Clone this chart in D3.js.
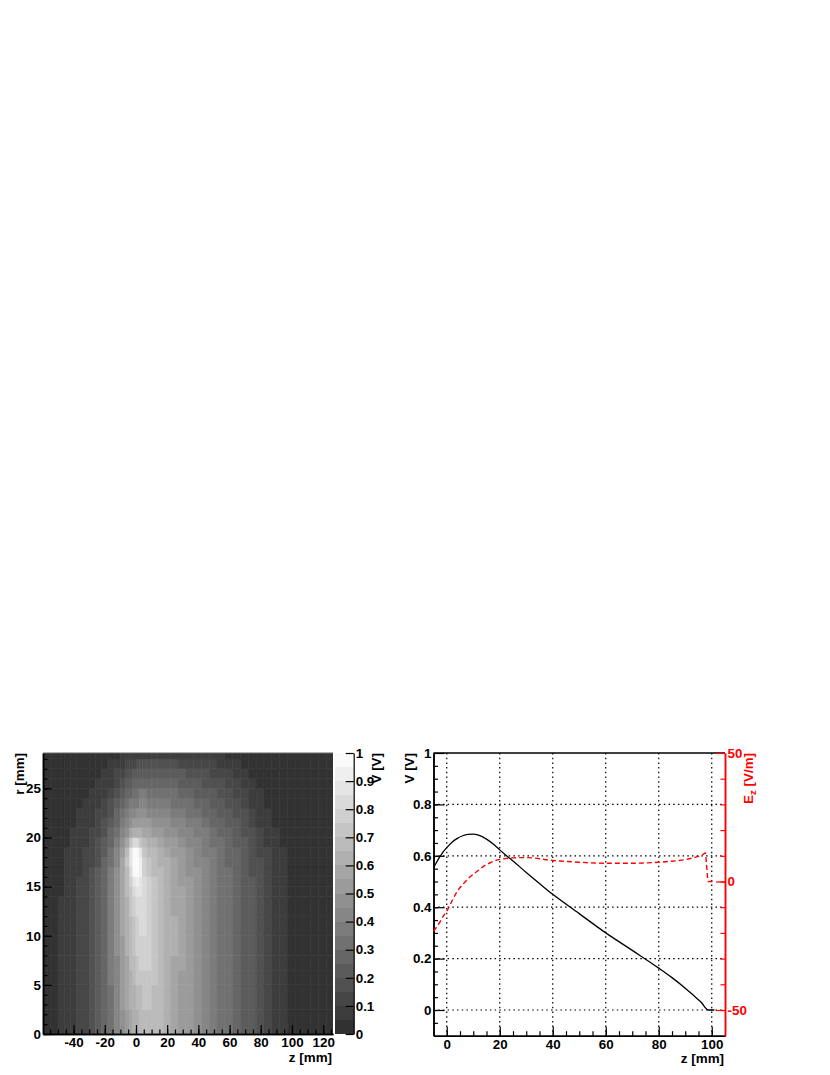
<!DOCTYPE html>
<html>
<head>
<meta charset="utf-8">
<script src="https://cdn.jsdelivr.net/npm/d3@7"></script>
<style>
body { margin: 0; background: #fff; }
text { font-family: "Liberation Sans", Arial, sans-serif; font-weight: bold; font-size: 13.4px; }
</style>
</head>
<body>
<div class="canvas"></div>
<script>
// cell edges of the potential map
var zEdges = [-59.6,-55,-50,-46,-42,-38,-34,-30,-26,-22,-18,-14,-10,-7,-4,-2,0,2,4,7,10,14,18,22,27,32,37,42,47,52,57,62,67,72,77,82,87,92,97,102,107,112,117,122,126.3];
var rEdges = [0,2.5,5,6.5,8,10,12,14,15,16,17,18,19,20,21,22,23,24,25,26,27,28,28.6];

// potential in units of 0.01 V, bottom row first
var potential = [
  [3,4,5,7,9,11,14,17,21,27,33, 41,49,54,58,61,64,66,67,68,68,65, 62,58,54,50,46,42,38,34,31,27,23, 20,17,13,9,6,4,4,4,4,4,3],
  [3,4,5,7,9,11,14,17,22,28,34, 42,50,56,60,64,67,69,71,71,69,66, 63,58,54,50,46,42,38,34,31,27,23, 20,17,13,9,6,4,4,4,4,4,3],
  [3,4,5,7,9,11,14,17,22,28,35, 43,52,58,63,67,70,73,74,74,71,67, 63,59,54,50,46,42,38,34,31,27,23, 20,17,13,9,6,4,4,4,4,4,3],
  [3,4,5,7,9,11,14,18,22,29,36, 44,53,59,65,69,72,75,77,76,72,67, 64,59,55,50,46,42,38,34,31,27,23, 20,17,13,9,6,4,4,4,4,4,3],
  [3,4,5,7,9,11,14,18,23,29,36, 45,54,61,67,71,75,77,79,77,73,68, 64,60,55,51,47,43,38,34,31,27,23, 20,17,13,9,6,4,4,4,4,4,3],
  [3,4,5,7,9,11,14,18,23,29,37, 45,55,62,68,73,77,80,80,76,73,68, 64,60,55,51,47,43,38,34,31,27,23, 20,17,13,9,6,4,4,4,4,4,3],
  [3,4,5,6,8,10,13,17,22,29,37, 46,56,64,71,76,81,83,81,76,72,67, 64,59,55,51,47,43,38,34,31,27,23, 20,17,13,9,6,4,4,4,4,4,3],
  [3,4,4,6,8,10,13,17,22,29,37, 46,56,65,74,81,86,86,80,76,71,67, 63,59,55,51,47,43,38,34,31,27,23, 20,17,13,9,6,4,4,4,4,4,3],
  [3,3,4,6,7,10,13,16,21,28,36, 46,56,66,78,88,92,88,80,75,70,66, 62,58,54,50,46,42,38,34,30,27,23, 20,16,13,9,6,4,4,4,4,4,3],
  [3,3,4,5,7,9,12,15,20,27,35, 45,56,68,83,96,98,90,78,73,69,65, 61,57,53,49,45,41,37,34,30,26,22, 19,16,12,8,5,4,4,4,4,4,3],
  [3,3,4,5,7,9,11,14,19,25,33, 44,55,70,87,99,100,92,76,71,67,63, 60,56,52,48,44,40,36,33,29,26,22, 19,15,11,8,5,4,4,4,4,4,3],
  [2,3,4,5,6,8,10,13,17,23,31, 42,53,68,85,98,99,88,73,68,65,61, 58,54,50,46,43,39,35,32,28,25,21, 18,14,10,7,5,3,3,4,4,4,3],
  [2,3,3,4,5,7,9,12,16,21,28, 38,48,59,72,84,84,74,65,62,60,57, 54,51,47,44,41,37,34,30,27,24,20, 17,13,9,6,4,3,3,3,3,3,3],
  [2,3,3,4,5,6,8,10,14,18,25, 33,42,49,56,61,62,60,57,55,54,52, 49,47,44,41,38,35,31,28,25,22,19, 15,11,8,5,4,3,3,3,3,3,3],
  [2,2,3,3,4,5,7,9,12,16,22, 29,36,42,47,50,52,52,51,50,48,47, 45,43,40,37,35,32,29,26,23,20,17, 13,9,6,4,3,3,3,3,3,3,2],
  [2,2,3,3,4,5,6,8,10,13,18, 25,31,36,40,43,45,45,45,44,43,42, 40,38,36,34,31,29,26,23,20,18,15, 11,8,5,3,3,3,3,3,2,2,2],
  [2,2,2,3,3,4,5,6,8,11,15, 21,26,31,35,37,39,40,40,39,38,37, 36,34,32,30,28,26,23,21,18,15,12, 9,6,4,3,3,3,2,2,2,2,2],
  [2,2,2,2,3,3,4,5,7,9,12, 17,22,26,29,32,34,35,35,34,34,33, 32,30,28,26,24,22,20,18,15,13,10, 7,5,3,3,2,2,2,2,2,2,2],
  [2,2,2,2,2,3,3,4,5,7,9, 13,17,21,24,26,28,29,29,29,28,28, 27,26,24,22,21,19,17,15,13,10,8, 6,4,3,2,2,2,2,2,2,2,2],
  [1,2,2,2,2,2,3,3,4,5,7, 10,13,16,18,20,22,23,23,23,23,22, 22,21,20,18,17,15,14,12,10,8,6, 4,3,2,2,2,2,2,2,2,1,1],
  [1,1,2,2,2,2,2,3,3,4,5, 7,9,11,12,14,15,16,16,16,16,16, 16,15,14,13,12,11,10,9,7,6,4, 3,2,2,2,2,2,2,1,1,1,1],
  [1,1,1,1,1,2,2,2,2,3,3, 4,5,6,6,7,8,8,8,8,8,8, 8,7,7,6,6,6,5,5,4,3,3, 2,2,2,1,1,1,1,1,1,1,1]
];

// on-axis curves of the right panel
var zVoltage = [-5,-4,-3,-2,-1,0,2,4,6,8,10,12,15,18,20,22,25,30,35,40,50,60,70,80,85,90,93,96,98.7,100,101];
var voltage = [.553,.572,.59,.606,.62,.632,.653,.668,.678,.683,.684,.68,.665,.642,.623,.605,.58,.535,.492,.45,.375,.30,.232,.163,.126,.085,.058,.03,0,0,0];
var zField = [-5,-3,-1,0,2,4,6,8,10,12,14,16,18,20,22,25,30,40,50,60,70,80,85,90,94,96.5,97.6,98,98.3,98.6,101];
var field = [-19.3,-16.5,-13,-11.6,-7.5,-3.8,-1.2,1,2.8,4.4,6,7.1,8,8.6,8.9,9.2,9.3,8.2,7.5,7.1,7.1,7.5,7.9,8.5,9.5,10.4,11.1,7,3,0,0];

var mapZTicks = [-40,-20,0,20,40,60,80,100,120];
var mapRTicks = [0,5,10,15,20,25];
var barTicks = [0,.1,.2,.3,.4,.5,.6,.7,.8,.9,1];
var lineZTicks = [0,20,40,60,80,100];
var voltTicks = [0,.2,.4,.6,.8,1];
var fieldTicks = [-50,0,50];

var svg = d3.select('.canvas').append('svg')
    .attr('width', 830)
    .attr('height', 1075);

// 20 flat grey contours, as in the colour bar
var grey = d3.scaleQuantize()
    .domain([0, 1])
    .range(d3.range(20).map(function (i) {
        var g = Math.round(44 + (i + 0.5) / 20 * 211);
        return 'rgb(' + g + ',' + g + ',' + g + ')';
    }));

function fmt(d) { return String(d); }

// soft edge for the map cells, the original is a resampled bitmap
var defs = svg.append('defs');
defs.append('filter')
    .attr('id', 'soft')
    .attr('x', 0).attr('y', 0).attr('width', 1).attr('height', 1)
    .append('feGaussianBlur')
    .attr('stdDeviation', 0.7)
    .attr('edgeMode', 'duplicate');

// ---- left panel
var mapX = d3.scaleLinear().domain([-59.6, 126.3]).range([43, 333]),
    mapY = d3.scaleLinear().domain([0, 28.6]).range([1034, 753]);

var cells = [];
potential.forEach(function (row, j) {
    row.forEach(function (v, i) {
        cells.push({i: i, j: j, v: v / 100});
    });
});

svg.append('g').attr('filter', 'url(#soft)').selectAll('rect')
    .data(cells)
    .enter()
    .append('rect')
    .attr('x', function (d) { return mapX(zEdges[d.i]); })
    .attr('y', function (d) { return mapY(rEdges[d.j + 1]); })
    .attr('width', function (d) { return mapX(zEdges[d.i + 1]) - mapX(zEdges[d.i]); })
    .attr('height', function (d) { return mapY(rEdges[d.j]) - mapY(rEdges[d.j + 1]); })
    .attr('fill', function (d) { return grey(d.v); })
    .attr('stroke', function (d) { return grey(d.v); })
    .attr('stroke-width', 0.5);

function styleAxis(g, color, width) {
    g.selectAll('.domain').attr('stroke', color).attr('stroke-width', width);
    g.selectAll('.tick line').attr('stroke', color).attr('stroke-width', 1.2);
    g.selectAll('text').attr('fill', color);
    g.attr('font-family', null).attr('font-size', null);
}

// minor ticks first, then major ticks with labels
function drawAxis(opts) {
    var minor = svg.append('g')
        .attr('transform', opts.translate)
        .call(opts.make(opts.scale).tickValues(opts.minor).tickSize(-opts.minorLen).tickFormat('').tickSizeOuter(0));
    styleAxis(minor, opts.color, opts.width);
    var major = svg.append('g')
        .attr('transform', opts.translate)
        .call(opts.make(opts.scale).tickValues(opts.major).tickSize(-opts.majorLen).tickPadding(opts.padding).tickFormat(fmt).tickSizeOuter(0));
    styleAxis(major, opts.color, opts.width);
    return major;
}

drawAxis({
    make: d3.axisBottom, scale: mapX, translate: 'translate(0,1034)',
    major: mapZTicks, minor: d3.range(-55, 126, 5),
    majorLen: 9, minorLen: 4.5, padding: 3, color: '#000', width: 1.5
});
drawAxis({
    make: d3.axisLeft, scale: mapY, translate: 'translate(43,0)',
    major: mapRTicks, minor: d3.range(0, 29, 1),
    majorLen: 9, minorLen: 4.5, padding: 2, color: '#000', width: 1.5
});

svg.append('line')
    .attr('x1', 43).attr('x2', 333).attr('y1', 753).attr('y2', 753)
    .attr('stroke', '#666').attr('stroke-width', 1);

// colour bar
var barY = d3.scaleLinear().domain([0, 1]).range([1034, 753]);

svg.append('g').attr('shape-rendering', 'crispEdges').selectAll('rect')
    .data(d3.range(20))
    .enter()
    .append('rect')
    .attr('x', 334.5)
    .attr('width', 19)
    .attr('y', function (d) { return barY((d + 1) / 20); })
    .attr('height', function (d) { return barY(d / 20) - barY((d + 1) / 20); })
    .attr('fill', function (d) { return grey((d + 0.5) / 20); });

var barAxis = svg.append('g')
    .attr('transform', 'translate(353.7,0)')
    .call(d3.axisRight(barY).tickValues(barTicks).tickSize(-8).tickPadding(2).tickFormat(fmt).tickSizeOuter(0));
styleAxis(barAxis, '#000', 1.2);

// ---- right panel
var lineX = d3.scaleLinear().domain([-5, 105]).range([433.5, 725]),
    voltY = d3.scaleLinear().domain([-0.1, 1]).range([1035.7, 753]),
    fieldY = d3.scaleLinear().domain([-60, 50]).range([1035.7, 753]);

var grid = svg.append('g')
    .attr('stroke', '#000')
    .attr('stroke-width', 1.2)
    .attr('stroke-dasharray', '1.5,3.2');

grid.selectAll('.gx')
    .data(lineZTicks)
    .enter()
    .append('line')
    .attr('x1', lineX).attr('x2', lineX)
    .attr('y1', 753).attr('y2', 1035.7);

grid.selectAll('.gy')
    .data(voltTicks.slice(0, 5))
    .enter()
    .append('line')
    .attr('x1', 433.5).attr('x2', 725)
    .attr('y1', voltY).attr('y2', voltY);

drawAxis({
    make: d3.axisBottom, scale: lineX, translate: 'translate(0,1035.7)',
    major: lineZTicks, minor: d3.range(-5, 105, 5),
    majorLen: 9, minorLen: 4.5, padding: 4, color: '#000', width: 1.5
});
drawAxis({
    make: d3.axisLeft, scale: voltY, translate: 'translate(433.5,0)',
    major: voltTicks, minor: d3.range(-0.05, 1, 0.05),
    majorLen: 11, minorLen: 4.5, padding: 2, color: '#000', width: 1.5
});

svg.append('line')
    .attr('x1', 433.5).attr('x2', 725).attr('y1', 753).attr('y2', 753)
    .attr('stroke', '#000').attr('stroke-width', 1.5);

var redAxis = svg.append('g')
    .attr('transform', 'translate(725,0)')
    .call(d3.axisRight(fieldY).tickValues(d3.range(-50, 50, 10)).tickSize(-4.5).tickFormat('').tickSizeOuter(0));
styleAxis(redAxis, '#f00', 1.5);
var redMajor = svg.append('g')
    .attr('transform', 'translate(725,0)')
    .call(d3.axisRight(fieldY).tickValues(fieldTicks).tickSize(-9).tickPadding(2.5).tickFormat(fmt).tickSizeOuter(0));
styleAxis(redMajor, '#f00', 1.5);

var voltLine = d3.line()
    .x(function (d, i) { return lineX(zVoltage[i]); })
    .y(function (d) { return voltY(d); })
    .curve(d3.curveMonotoneX);

var fieldLine = d3.line()
    .x(function (d, i) { return lineX(zField[i]); })
    .y(function (d) { return fieldY(d); })
    .curve(d3.curveMonotoneX);

svg.append('path')
    .datum(voltage)
    .attr('d', voltLine)
    .attr('fill', 'none')
    .attr('stroke', '#000')
    .attr('stroke-width', 1.3);

svg.append('path')
    .datum(field)
    .attr('d', fieldLine)
    .attr('fill', 'none')
    .attr('stroke', '#f00')
    .attr('stroke-width', 1.4)
    .attr('stroke-dasharray', '5,3');

// ---- axis titles
function title(x, y, rotate, label, color) {
    return svg.append('text')
        .attr('transform', 'translate(' + x + ',' + y + ')' + (rotate ? ' rotate(-90)' : ''))
        .attr('text-anchor', 'end')
        .attr('fill', color || '#000')
        .text(label);
}

title(332, 1062, false, 'z [mm]');
title(724, 1062.5, false, 'z [mm]');
title(24, 753, true, 'r [mm]');
title(381, 753, true, 'V [V]');
title(414, 753, true, 'V [V]');

var ez = title(753, 753, true, 'E', '#f00');
ez.append('tspan').attr('dy', 3).style('font-size', '9.5px').text('z');
ez.append('tspan').attr('dy', -3).text(' [V/m]');
</script>
</body>
</html>
